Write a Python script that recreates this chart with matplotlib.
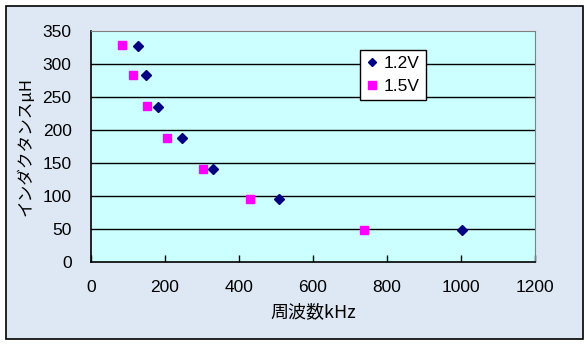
import matplotlib
matplotlib.use("Agg")
import matplotlib.pyplot as plt
from matplotlib.patches import Rectangle

# Measured inductance vs. resonant frequency for two supply voltages
series_names = ["1.2V", "1.5V"]
freq_12v = [127, 148, 180, 245, 330, 508, 1003]
ind_12v = [328, 283, 235, 188, 141, 95, 48]
freq_15v = [84, 113, 150, 205, 303, 430, 738]
ind_15v = [329, 284, 236, 188, 141, 96, 49]

x_ticks = [0, 200, 400, 600, 800, 1000, 1200]
y_ticks = [0, 50, 100, 150, 200, 250, 300, 350]

plt.rcParams['font.family'] = ['Liberation Sans', 'Noto Sans CJK JP', 'DejaVu Sans']

W, H = 587, 345
fig = plt.figure(figsize=(W / 100, H / 100), dpi=100)
fig.patch.set_facecolor("white")

# chart area background with black frame
fig.patches.append(Rectangle((6 / W, 1 - 339 / H), (583 - 6) / W, (339 - 6) / H,
                             transform=fig.transFigure, facecolor="#dde8f4",
                             edgecolor="black", linewidth=1.2, zorder=-10))

left, right, bottom, top = 91 / W, 535 / W, 1 - 262 / H, 1 - 31 / H
ax = fig.add_axes([left, bottom, right - left, top - bottom])
ax.set_facecolor("#ccffff")

ax.set_xlim(0, 1200)
ax.set_ylim(0, 350)
ax.set_xticks(x_ticks)
ax.set_yticks(y_ticks)

for y in y_ticks[1:-1]:
    ax.axhline(y, color="black", linewidth=1.0, zorder=1)

ax.plot(freq_12v, ind_12v, linestyle="none", marker="D", markersize=5,
        color="#000080", label=series_names[0], zorder=3)
ax.plot(freq_15v, ind_15v, linestyle="none", marker="s", markersize=6,
        color="#ff00ff", label=series_names[1], zorder=3)

for s in ("top", "right"):
    ax.spines[s].set_color("#808080")
for s in ("left", "bottom"):
    ax.spines[s].set_color("black")
    ax.spines[s].set_linewidth(1.2)

ax.tick_params(axis="x", direction="in", length=5, width=1, pad=13,
               labelsize=12.5, color="black")
ax.tick_params(axis="y", length=0, pad=14, labelsize=12.5)

ax.set_xlabel("周波数kHz", fontsize=13, labelpad=6,
              family=['Noto Sans CJK JP', 'DejaVu Sans'])
ax.set_ylabel("インダクタンスμH", fontsize=12, labelpad=6,
              family=['Noto Sans CJK JP', 'DejaVu Sans'])

leg = ax.legend(loc="upper left", bbox_to_anchor=(0.606, 0.918),
                frameon=True, fancybox=False, fontsize=12.5,
                handlelength=0.7, handletextpad=0.3, borderpad=0.35,
                labelspacing=0.45, borderaxespad=0, markerscale=0.85)
leg.get_frame().set_edgecolor("black")
leg.get_frame().set_facecolor("white")
leg.get_frame().set_linewidth(1.0)
leg.get_frame().set_alpha(1)

fig.savefig("out.png", dpi=100)
